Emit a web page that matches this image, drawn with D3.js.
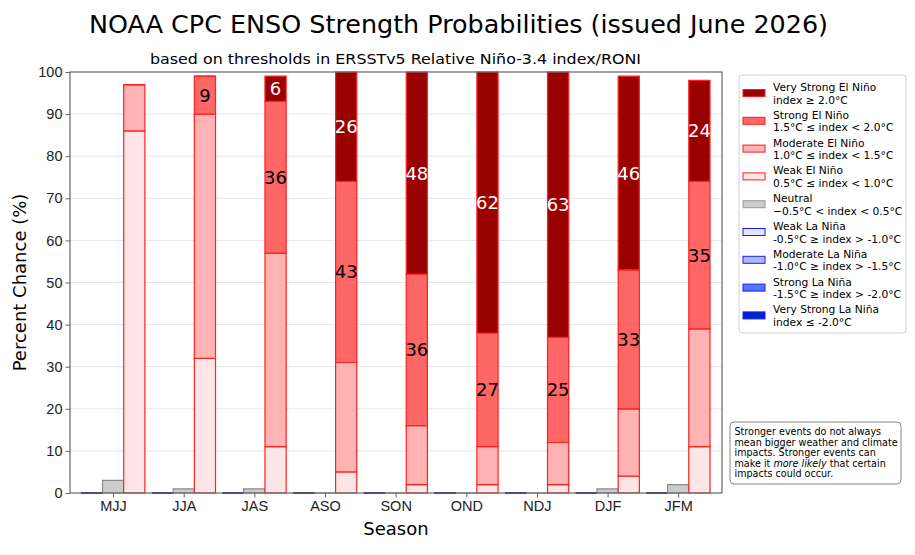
<!doctype html>
<html lang='en'>
<head>
<meta charset='UTF-8'>
<title>ENSO Strength Probabilities</title>
<style>
  body { margin: 0; background: #fff; }
  svg { display: block; font-family: 'DejaVu Sans', sans-serif; }
  .tick text { font-size: 14.5px; fill: #222; }
  .tick line { stroke: #666; }
</style>
</head>
<body>
<script src='https://d3js.org/d3.v7.min.js'></script>
<script>
  const seasons = ['MJJ', 'JJA', 'JAS', 'ASO', 'SON', 'OND', 'NDJ', 'DJF', 'JFM']

  // La Nina categories (all zero this issue)
  const weakLaNina = [0, 0, 0, 0, 0, 0, 0, 0, 0]
  const moderateLaNina = [0, 0, 0, 0, 0, 0, 0, 0, 0]
  const strongLaNina = [0, 0, 0, 0, 0, 0, 0, 0, 0]
  const veryStrongLaNina = [0, 0, 0, 0, 0, 0, 0, 0, 0]

  const neutral = [3, 1, 1, 0, 0, 0, 0, 1, 2]

  const weakElNino = [86, 32, 11, 5, 2, 2, 2, 4, 11]
  const moderateElNino = [11, 58, 46, 26, 14, 9, 10, 16, 28]
  const strongElNino = [0, 9, 36, 43, 36, 27, 25, 33, 35]
  const veryStrongElNino = [0, 0, 6, 26, 48, 62, 63, 46, 24]

  const yTicks = [0, 10, 20, 30, 40, 50, 60, 70, 80, 90, 100]

  const legendNames = ['Very Strong El Niño', 'Strong El Niño', 'Moderate El Niño', 'Weak El Niño', 'Neutral',
    'Weak La Niña', 'Moderate La Niña', 'Strong La Niña', 'Very Strong La Niña']
  const legendRanges = ['index ≥ 2.0°C', '1.5°C ≤ index < 2.0°C', '1.0°C ≤ index < 1.5°C', '0.5°C ≤ index < 1.0°C',
    '−0.5°C < index < 0.5°C', '-0.5°C ≥ index > -1.0°C', '-1.0°C ≥ index > -1.5°C', '-1.5°C ≥ index > -2.0°C',
    'index ≤ -2.0°C']
  const legendFill = ['#990000', '#ff6666', '#ffb3b3', '#ffe6e6', '#cccccc', '#e6e6ff', '#aabbff', '#5577ff', '#0022cc']
  const legendEdge = ['#ff1a1a', '#ff1a1a', '#ff1a1a', '#ff1a1a', '#999999', '#1a1aff', '#1a1aff', '#1a1aff', '#1a1aff']

  const W = 915, H = 555
  const plot = {left: 70, right: 722, top: 72, bottom: 493}
  const barW = 0.3

  const x = d3.scaleLinear().domain([-0.61, 8.62]).range([plot.left, plot.right])
  const y = d3.scaleLinear().domain([0, 100]).range([plot.bottom, plot.top])

  const svg = d3.select('body').append('svg')
    .attr('width', W)
    .attr('height', H)

  svg.append('rect').attr('width', W).attr('height', H).attr('fill', '#fff')

  // grid
  svg.append('g').selectAll('line')
    .data(yTicks.slice(1, -1))
    .join('line')
    .attr('x1', plot.left).attr('x2', plot.right)
    .attr('y1', d => y(d)).attr('y2', d => y(d))
    .attr('stroke', '#e6e6e6')
    .attr('stroke-width', 1)

  const table = seasons.map((s, i) => ({
    i: i,
    wLa: weakLaNina[i], mLa: moderateLaNina[i], sLa: strongLaNina[i], vLa: veryStrongLaNina[i],
    neu: neutral[i],
    wEl: weakElNino[i], mEl: moderateElNino[i], sEl: strongElNino[i], vEl: veryStrongElNino[i]
  }))

  const groupsDef = [
    {offset: -barW, keys: ['wLa', 'mLa', 'sLa', 'vLa'], fills: legendFill.slice(5), edge: '#1a1aa8'},
    {offset: 0, keys: ['neu'], fills: [legendFill[4]], edge: '#8c8c8c'},
    {offset: barW, keys: ['wEl', 'mEl', 'sEl', 'vEl'], fills: ['#ffe6e6', '#ffb3b3', '#ff6666', '#990000'], edge: '#ff2020'}
  ]

  const bars = svg.append('g')
  groupsDef.forEach(g => {
    const series = d3.stack().keys(g.keys)(table)
    series.forEach((s, k) => {
      bars.append('g').selectAll('path')
        .data(s)
        .join('path')
        .attr('d', d => {
          const x0 = x(d.data.i + g.offset - barW / 2), x1 = x(d.data.i + g.offset + barW / 2)
          const y0 = y(d[0]), y1 = y(d[1])
          return `M${x0},${y0}L${x1},${y0}L${x1},${y1}L${x0},${y1}Z`
        })
        .attr('fill', g.fills[k])
        .attr('stroke', g.edge)
        .attr('stroke-width', 1.2)
    })
  })

  // value labels on strong and very strong El Nino
  const elSeries = d3.stack().keys(['wEl', 'mEl', 'sEl', 'vEl'])(table)
  ;[2, 3].forEach(k => {
    svg.append('g').selectAll('text')
      .data(elSeries[k].filter(d => d[1] - d[0] >= 5))
      .join('text')
      .attr('x', d => x(d.data.i + barW))
      .attr('y', d => y((d[0] + d[1]) / 2))
      .attr('text-anchor', 'middle')
      .attr('dominant-baseline', 'central')
      .attr('font-size', 18)
      .attr('fill', k === 3 ? '#fff' : '#000')
      .text(d => d[1] - d[0])
  })

  // axes
  const yAxis = svg.append('g')
    .attr('transform', `translate(${plot.left},0)`)
    .call(d3.axisLeft(y).tickValues(yTicks).tickSize(4.5).tickPadding(3))
  yAxis.select('.domain').remove()

  const xAxis = svg.append('g')
    .attr('transform', `translate(0,${plot.bottom})`)
    .call(d3.axisBottom(x).tickValues(d3.range(seasons.length)).tickFormat(i => seasons[i]).tickSize(4.5).tickPadding(3))
  xAxis.select('.domain').remove()

  svg.append('rect')
    .attr('x', plot.left).attr('y', plot.top)
    .attr('width', plot.right - plot.left).attr('height', plot.bottom - plot.top)
    .attr('fill', 'none').attr('stroke', '#666').attr('stroke-width', 1.2)

  // titles
  svg.append('text')
    .attr('x', 89).attr('y', 33)
    .attr('font-size', 25)
    .attr('textLength', 739).attr('lengthAdjust', 'spacingAndGlyphs')
    .text('NOAA CPC ENSO Strength Probabilities (issued June 2026)')

  svg.append('text')
    .attr('x', 150).attr('y', 64)
    .attr('font-size', 14)
    .attr('textLength', 491).attr('lengthAdjust', 'spacingAndGlyphs')
    .text('based on thresholds in ERSSTv5 Relative Niño-3.4 index/RONI')

  svg.append('text')
    .attr('transform', `translate(26,${(plot.top + plot.bottom) / 2}) rotate(-90)`)
    .attr('text-anchor', 'middle')
    .attr('font-size', 18)
    .text('Percent Chance (%)')

  svg.append('text')
    .attr('x', 396).attr('y', 535)
    .attr('text-anchor', 'middle')
    .attr('font-size', 18)
    .text('Season')

  // legend
  const legend = svg.append('g')
  legend.append('rect')
    .attr('x', 739).attr('y', 75).attr('width', 167).attr('height', 258).attr('rx', 3)
    .attr('fill', '#fff').attr('stroke', '#d0d0d0')

  const items = legend.selectAll('g.item')
    .data(legendNames)
    .join('g')
    .attr('class', 'item')
    .attr('transform', (d, i) => `translate(0,${93 + i * 27.8})`)

  items.append('rect')
    .attr('x', 743).attr('y', -3.5).attr('width', 22).attr('height', 7)
    .attr('fill', (d, i) => legendFill[i])
    .attr('stroke', (d, i) => legendEdge[i])

  items.append('text')
    .attr('x', 773).attr('y', -2)
    .attr('font-size', 10.7)
    .text(d => d)

  items.append('text')
    .attr('x', 773).attr('y', 10.5)
    .attr('font-size', 10.7)
    .text((d, i) => legendRanges[i])

  // note box
  svg.append('rect')
    .attr('x', 730).attr('y', 422).attr('width', 171).attr('height', 62).attr('rx', 4)
    .attr('fill', '#fff').attr('stroke', '#888')

  const noteLines = [
    ['Stronger events do not always'],
    ['mean bigger weather and climate'],
    ['impacts. Stronger events can'],
    ['make it ', 'more likely', ' that certain'],
    ['impacts could occur.']
  ]
  noteLines.forEach((parts, li) => {
    const t = svg.append('text').attr('x', 734.5).attr('y', 435 + li * 10.6).attr('font-size', 9.6)
    parts.forEach((p, pi) => {
      t.append('tspan').attr('font-style', pi === 1 ? 'italic' : 'normal').text(p)
    })
  })
</script>
</body>
</html>
